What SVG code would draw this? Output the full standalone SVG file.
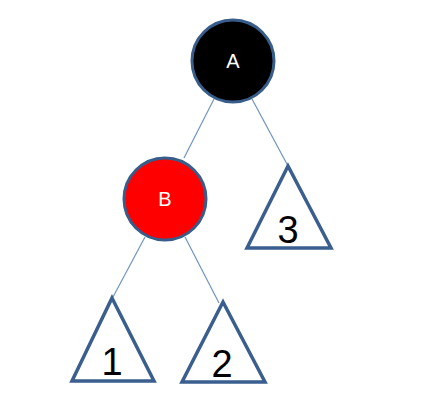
<svg xmlns="http://www.w3.org/2000/svg" width="443" height="416" viewBox="0 0 443 416">
<style>
.node{stroke:#385D8A;stroke-width:3}
.tri{fill:#fff;stroke:#3A5F8E;stroke-width:3.5;stroke-linejoin:miter}
.edge{stroke:#6F93C6;stroke-width:1.2;fill:none}
.lbl{font-family:"Liberation Sans",Arial,sans-serif;font-size:20px;fill:#fff;text-anchor:middle}
.num{font-family:"Liberation Sans",Arial,sans-serif;font-size:38px;fill:#000;text-anchor:middle}
</style>
<rect width="443" height="416" fill="#fff"/>
<g id="connectors">
<line class="edge" x1="214" y1="99" x2="184" y2="158"/>
<line class="edge" x1="252" y1="99" x2="288" y2="166"/>
<line class="edge" x1="145" y1="237" x2="113" y2="297"/>
<line class="edge" x1="185" y1="237" x2="219" y2="303"/>
</g>
<g id="A">
<circle class="node" cx="233" cy="61" r="41" fill="#000"/>
<text class="lbl" x="233" y="68">A</text>
</g>
<g id="B">
<circle class="node" cx="165" cy="199" r="41" fill="#FF0000"/>
<text class="lbl" x="165" y="206">B</text>
</g>
<g id="T3">
<polygon class="tri" points="288,166 331,248 247,248"/>
<text class="num" x="288" y="243">3</text>
</g>
<g id="T1">
<polygon class="tri" points="112,298 154,381 72,381"/>
<text class="num" x="112" y="375">1</text>
</g>
<g id="T2">
<polygon class="tri" points="223,302 265,382 182,382"/>
<text class="num" x="222" y="377">2</text>
</g>
</svg>
